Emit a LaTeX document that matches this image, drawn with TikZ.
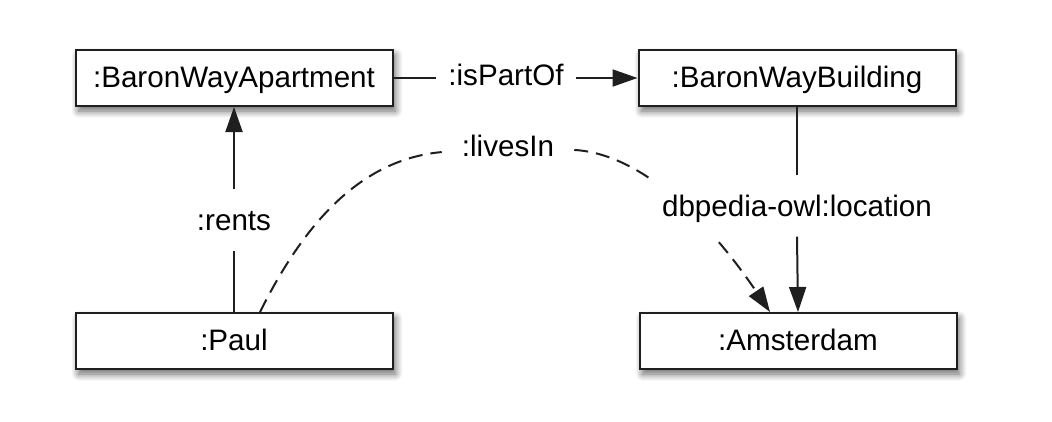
\documentclass[tikz,border=0pt]{standalone}
\usepackage{fontspec}
\setmainfont{Liberation Sans}
\usetikzlibrary{arrows.meta,shadows.blur}
\tikzset{
  obj/.style={draw=black!88, line width=2pt, fill=white, minimum width=317pt, minimum height=56pt,
    inner sep=0pt, text height=21pt, text depth=3pt,
    blur shadow={shadow xshift=3pt, shadow yshift=-5pt, shadow blur radius=7pt, shadow blur steps=10, shadow opacity=60}},
  lbl/.style={fill=white, inner xsep=12pt, inner ysep=17pt, text height=24pt, text depth=3pt},
  conn/.style={line width=2pt, draw=black!88},
  tip/.style={-{Triangle[length=25pt,width=17pt]}},
  dsh/.style={dash pattern=on 14pt off 8pt}
}
\begin{document}
\begin{tikzpicture}[x=1pt,y=-1pt, font=\fontsize{29.6}{34}\selectfont]
\useasboundingbox (0,0) rectangle (1052,421);
\node[obj] (apt) at (234,78) {:BaronWayApartment};
\node[obj] (bld) at (797,78) {:BaronWayBuilding};
\node[obj] (paul) at (234,341) {:Paul};
\node[obj] (ams) at (798,341) {:Amsterdam};
% isPartOf
\node[lbl, text height=21pt, text depth=6pt] (ip) at (506,78) {:isPartOf};
\draw[conn] (apt.east) -- (ip.west);
\draw[conn,tip] (ip.east) -- (bld.west);
% rents
\node[lbl] (rn) at (234,220) {:rents};
\draw[conn] (paul.north) -- (rn.south);
\draw[conn,tip] (rn.north) -- (apt.south);
% livesIn
\node[lbl, inner xsep=20pt] (lv) at (508,146) {:livesIn};
\coordinate (ps) at ([xshift=26pt]paul.north);
\coordinate (pe) at ([xshift=-28pt]ams.north);
\draw[conn,dsh,tip] (ps) .. controls (300,232) and (355,160) .. (lv)
   .. controls (660,155) and (735,260) .. (pe);
% location
\node[lbl] (loc) at (797,206) {dbpedia-owl:location};
\draw[conn] (bld.south) -- (loc.north);
\draw[conn,tip] (loc.south) -- (ams.north);
\end{tikzpicture}
\end{document}
